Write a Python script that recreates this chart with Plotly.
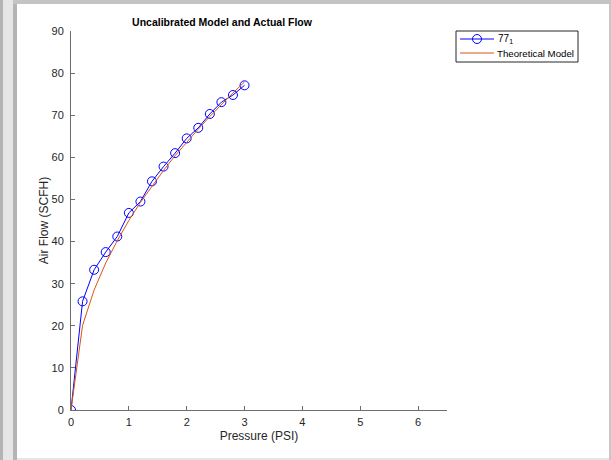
import plotly.graph_objects as go

pressure = [0, 0.2, 0.4, 0.6, 0.8, 1.0, 1.2, 1.4, 1.6, 1.8, 2.0, 2.2, 2.4, 2.6, 2.8, 3.0]
flow_measured = [0, 25.8, 33.3, 37.5, 41.2, 46.8, 49.5, 54.3, 57.8, 61.0, 64.5, 67.0, 70.3, 73.1, 74.8, 77.1]
flow_theoretical = [0, 20.1, 28.5, 34.9, 40.2, 45.0, 49.3, 53.2, 56.9, 60.4, 63.6, 66.7, 69.7, 72.6, 75.3, 77.9]
series_names = ["77<sub>1</sub>", "Theoretical Model"]
x_ticks = [0, 1, 2, 3, 4, 5, 6]
y_ticks = [0, 10, 20, 30, 40, 50, 60, 70, 80, 90]

W, H = 611, 460
L, R, T, B = 71, 164, 31, 50
PW, PH = W - L - R, H - T - B

def px(x):
    return (x - L) / PW

def py(y):
    return (H - B - y) / PH

FONT = "Liberation Sans, Arial, Helvetica, sans-serif"
AX = "#6e6e6e"
TXT = "#262626"
BLUE = "#0000ff"
ORANGE = "#D95319"

fig = go.Figure()
fig.add_trace(go.Scatter(
    x=pressure, y=flow_measured, mode="lines+markers", name=series_names[0], showlegend=False,
    line=dict(color=BLUE, width=1),
    marker=dict(symbol="circle-open", size=9, color=BLUE, line=dict(width=1)),
))
fig.add_trace(go.Scatter(
    x=pressure, y=flow_theoretical, mode="lines", name=series_names[1], showlegend=False,
    line=dict(color=ORANGE, width=1),
))

def prect(x0, x1, y0, y1, color, layer="below", line=None):
    return dict(type="rect", xref="paper", yref="paper", x0=px(x0), x1=px(x1), y0=py(y1), y1=py(y0),
                fillcolor=color, line=line or dict(width=0), layer=layer)

shapes = [
    prect(0, 3, 0, 460, "#b4b4b4"),
    prect(13, 17, 0, 460, "#b4b4b4"),
    prect(13, 611, 0, 4, "#c4c4c4"),
    prect(17, 609, 4, 458, "white"),
    prect(609, 611, 4, 460, "#c8c8c8"),
    # legend box
    prect(456, 578, 31, 62, "white", layer="above", line=dict(color="#262626", width=1)),
    dict(type="line", xref="paper", yref="paper", x0=px(460), x1=px(494), y0=py(39), y1=py(39),
         line=dict(color=BLUE, width=1), layer="above"),
    dict(type="circle", xref="paper", yref="paper", x0=px(472.5), x1=px(481.5), y0=py(43.5), y1=py(34.5),
         line=dict(color=BLUE, width=1), fillcolor="rgba(0,0,0,0)", layer="above"),
    dict(type="line", xref="paper", yref="paper", x0=px(460), x1=px(494), y0=py(53), y1=py(53),
         line=dict(color=ORANGE, width=1), layer="above"),
]

annotations = [
    dict(text=series_names[0], xref="paper", yref="paper", x=px(497), y=py(39), xanchor="left",
         yanchor="middle", showarrow=False, borderpad=0, font=dict(size=10, color="#000000")),
    dict(text=series_names[1], xref="paper", yref="paper", x=px(496), y=py(53), xanchor="left",
         yanchor="middle", showarrow=False, borderpad=0, font=dict(size=9.7, color="#000000")),
]

fig.update_layout(
    width=W, height=H,
    margin=dict(l=L, r=R, t=T, b=B, pad=0),
    paper_bgcolor="#e6e6e6", plot_bgcolor="white",
    font=dict(family=FONT, color=TXT, size=11),
    title=dict(text="<b>Uncalibrated Model and Actual Flow</b>", x=px(222), xref="paper",
               xanchor="center", y=1 - 22 / H, yref="container", yanchor="middle",
               font=dict(size=10.5, color="#000000")),
    showlegend=False,
    shapes=shapes,
    annotations=annotations,
    xaxis=dict(range=[0, 6.5], tickvals=x_ticks, ticks="inside", ticklen=4, tickcolor=AX,
               showline=True, linecolor=AX, linewidth=1, showgrid=False, zeroline=False,
               tickfont=dict(size=11, color=TXT), ticklabelstandoff=2,
               title=dict(text="Pressure (PSI)", font=dict(size=12, color=TXT), standoff=4)),
    yaxis=dict(range=[0, 90], tickvals=y_ticks, ticks="inside", ticklen=4, tickcolor=AX,
               showline=True, linecolor=AX, linewidth=1, showgrid=False, zeroline=False,
               tickfont=dict(size=11, color=TXT), ticklabelstandoff=4,
               title=dict(text="Air Flow (SCFH)", font=dict(size=12, color=TXT), standoff=0)),
)

fig.write_html("out.html")
